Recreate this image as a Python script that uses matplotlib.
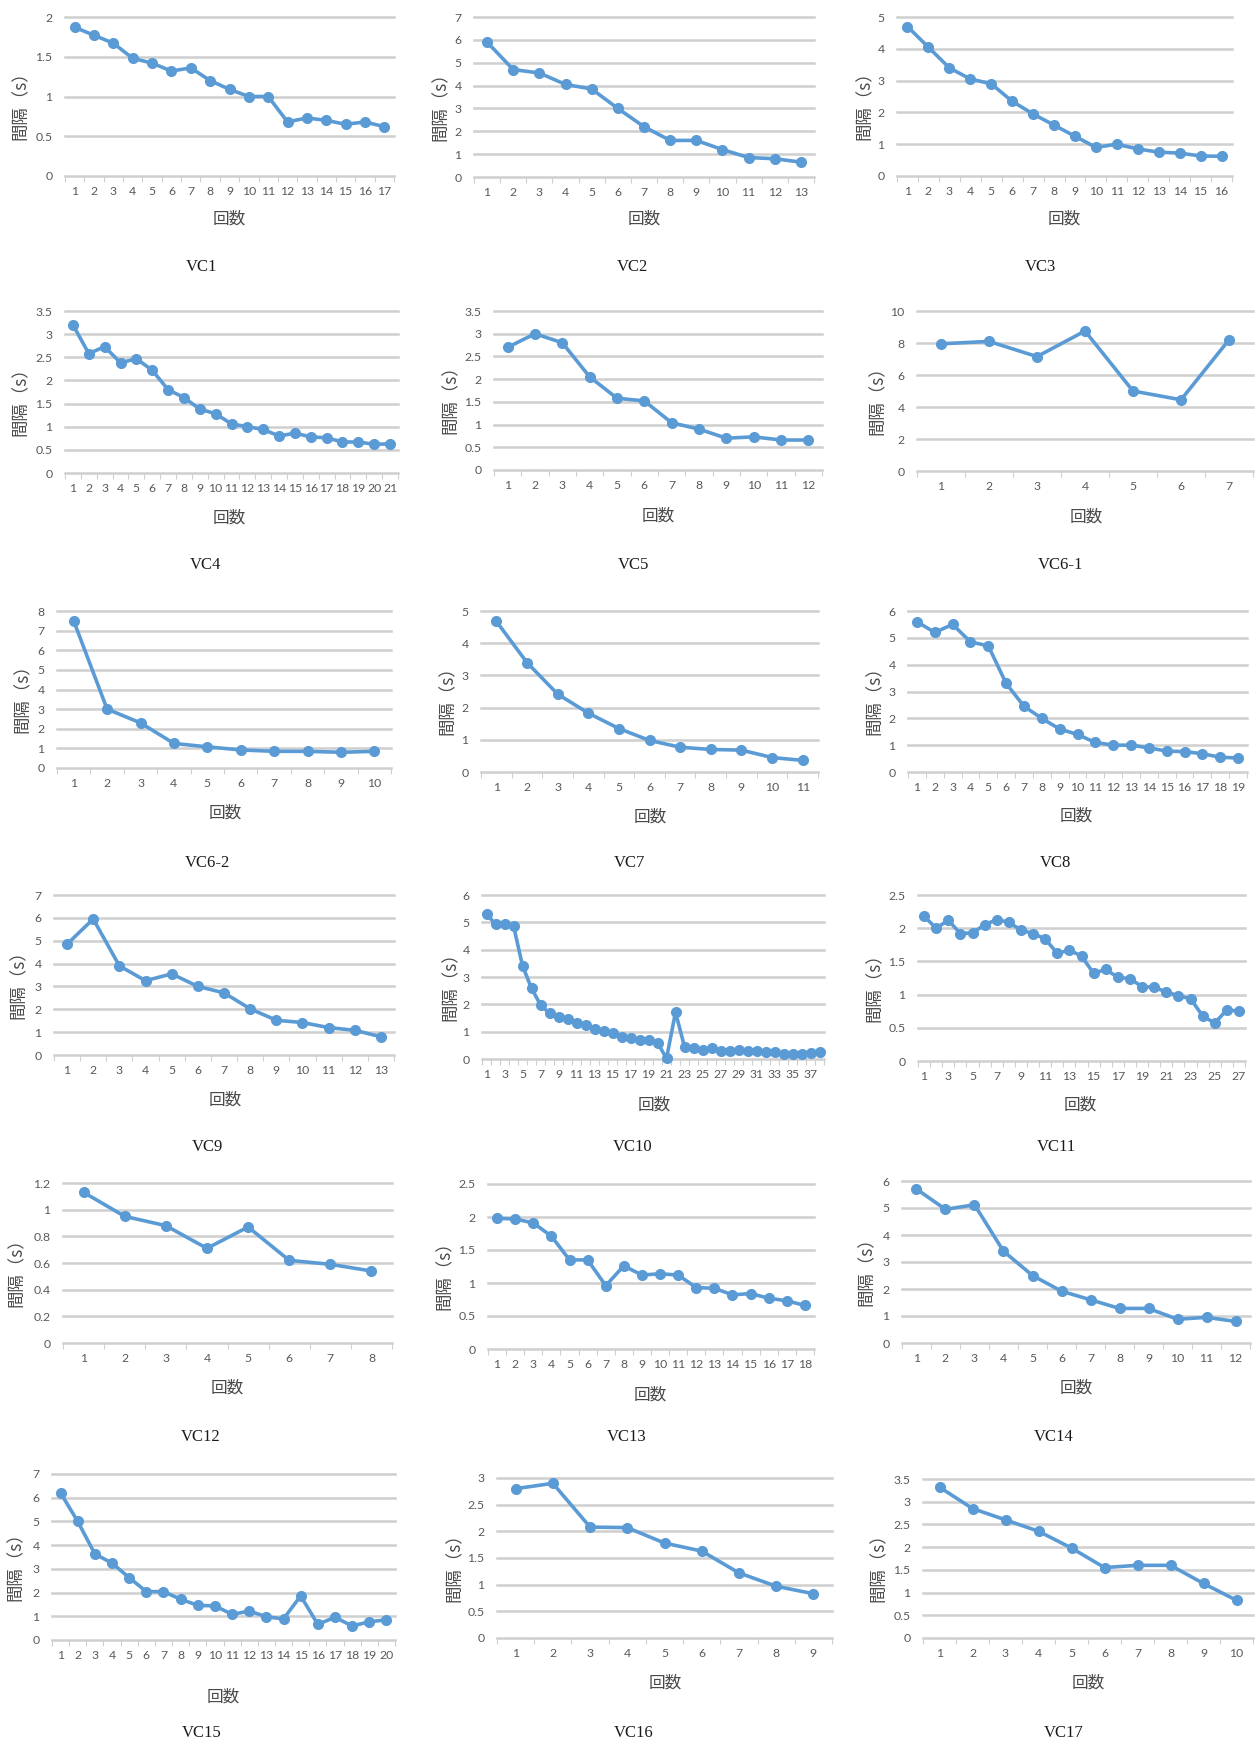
import matplotlib
matplotlib.use("Agg")
import matplotlib.pyplot as plt
from matplotlib.ticker import FuncFormatter
import numpy as np

W, H = 1259, 1747
CJK = ["Noto Sans CJK JP", "DejaVu Sans"]
TICK_FONT = "Lato"
LINE_BLUE = "#5b9bd5"
GRID_GRAY = "#cfcfcf"
TEXT_GRAY = "#595959"

# ---- series (interval in seconds per trial) ----
names = ["VC1", "VC2", "VC3", "VC4", "VC5", "VC6-1", "VC6-2", "VC7", "VC8",
         "VC9", "VC10", "VC11", "VC12", "VC13", "VC14", "VC15", "VC16", "VC17"]

vc1 = [1.87, 1.77, 1.67, 1.48, 1.42, 1.32, 1.36, 1.20, 1.09, 1.00, 1.00,
       0.68, 0.73, 0.70, 0.65, 0.68, 0.62]
vc2 = [5.9, 4.7, 4.55, 4.05, 3.85, 3.0, 2.2, 1.6, 1.6, 1.2, 0.85, 0.8, 0.65]
vc3 = [4.7, 4.05, 3.4, 3.05, 2.9, 2.35, 1.95, 1.6, 1.25, 0.9, 1.0, 0.85,
       0.75, 0.72, 0.63, 0.62]
vc4 = [3.2, 2.58, 2.73, 2.38, 2.47, 2.22, 1.8, 1.63, 1.38, 1.28, 1.06, 1.0,
       0.94, 0.8, 0.86, 0.78, 0.76, 0.67, 0.67, 0.62, 0.63]
vc5 = [2.7, 3.0, 2.8, 2.05, 1.58, 1.52, 1.04, 0.9, 0.7, 0.73, 0.66, 0.66]
vc6_1 = [7.95, 8.1, 7.15, 8.75, 5.0, 4.45, 8.2]
vc6_2 = [7.5, 3.0, 2.3, 1.25, 1.08, 0.92, 0.85, 0.85, 0.8, 0.85]
vc7 = [4.68, 3.4, 2.42, 1.83, 1.35, 0.98, 0.77, 0.7, 0.68, 0.45, 0.36]
vc8 = [5.6, 5.2, 5.5, 4.85, 4.7, 3.3, 2.45, 2.0, 1.6, 1.4, 1.1, 1.0, 1.0,
       0.9, 0.78, 0.76, 0.68, 0.55, 0.52]
vc9 = [4.85, 5.95, 3.9, 3.25, 3.55, 3.0, 2.72, 2.02, 1.52, 1.42, 1.2, 1.08, 0.8]
vc10 = [5.29, 4.94, 4.93, 4.88, 3.41, 2.59, 1.98, 1.67, 1.55, 1.45, 1.30,
        1.23, 1.10, 1.04, 0.94, 0.82, 0.76, 0.70, 0.70, 0.60, 0.02, 1.71,
        0.45, 0.41, 0.33, 0.39, 0.30, 0.30, 0.32, 0.30, 0.28, 0.25, 0.25,
        0.20, 0.18, 0.18, 0.22, 0.27]
vc11 = [2.18, 2.0, 2.12, 1.92, 1.93, 2.05, 2.13, 2.09, 1.97, 1.92, 1.84,
        1.62, 1.67, 1.58, 1.32, 1.38, 1.26, 1.24, 1.12, 1.11, 1.04, 0.98,
        0.94, 0.68, 0.57, 0.77, 0.75]
vc12 = [1.13, 0.95, 0.88, 0.71, 0.87, 0.62, 0.59, 0.54]
vc13 = [1.98, 1.97, 1.91, 1.71, 1.35, 1.35, 0.96, 1.26, 1.12, 1.14, 1.12,
        0.93, 0.92, 0.82, 0.84, 0.77, 0.73, 0.66]
vc14 = [5.7, 4.95, 5.12, 3.4, 2.5, 1.92, 1.6, 1.28, 1.28, 0.88, 0.95, 0.8]
vc15 = [6.2, 5.0, 3.63, 3.24, 2.63, 2.04, 2.04, 1.72, 1.46, 1.44, 1.08,
        1.22, 0.98, 0.89, 1.86, 0.66, 0.96, 0.59, 0.77, 0.85]
vc16 = [2.8, 2.9, 2.08, 2.07, 1.78, 1.63, 1.22, 0.97, 0.83]
vc17 = [3.32, 2.85, 2.6, 2.35, 1.98, 1.55, 1.6, 1.6, 1.2, 0.83]

series = [vc1, vc2, vc3, vc4, vc5, vc6_1, vc6_2, vc7, vc8,
          vc9, vc10, vc11, vc12, vc13, vc14, vc15, vc16, vc17]

# value-axis maximum and major unit for each chart
y_max = [2, 7, 5, 3.5, 3.5, 10, 8, 5, 6, 7, 6, 2.5, 1.2, 2.5, 6, 7, 3, 3.5]
y_step = [0.5, 1, 1, 0.5, 0.5, 2, 1, 1, 1, 1, 1, 0.5, 0.2, 0.5, 1, 1, 0.5, 0.5]
# interval between category labels
x_label_every = [1, 1, 1, 1, 1, 1, 1, 1, 1, 1, 2, 2, 1, 1, 1, 1, 1, 1]

y_title = "間隔（s）"
x_title = "回数"

# ---- layout in pixels: plot box (left, right, top, bottom) ----
boxes = [
    (65, 394, 17, 176), (474, 814, 17, 177), (897, 1232, 17, 176),
    (65, 398, 311, 473), (494, 822, 311, 470), (917, 1253, 311, 471),
    (57, 391, 611, 768), (481, 818, 611, 772), (908, 1247, 611, 772),
    (54, 394, 895, 1055), (482, 824, 895, 1059), (918, 1245, 895, 1061),
    (63, 392, 1183, 1343), (488, 814, 1184, 1349), (902, 1250, 1181, 1343),
    (52, 395, 1474, 1640), (497, 832, 1478, 1638), (923, 1253, 1479, 1638),
]
# (x, y) centres of the category-axis title
xtitle_pos = [
    (229, 219), (644, 219), (1064, 219),
    (229, 518), (658, 516), (1086, 517),
    (225, 813), (650, 817), (1076, 816),
    (225, 1100), (654, 1105), (1080, 1105),
    (227, 1388), (650, 1395), (1076, 1388),
    (223, 1697), (665, 1683), (1088, 1683),
]
# (x, y) centres of the chart captions
caption_pos = [
    (201, 267), (632, 267), (1040, 267),
    (205, 565), (634, 565), (1060, 565),
    (207, 863), (630, 863), (1056, 863),
    (207, 1147), (633, 1147), (1056, 1147),
    (201, 1437), (627, 1437), (1054, 1437),
    (202, 1733), (634, 1733), (1064, 1733),
]
# x centre of the value-axis title
ytitle_x = [21, 441, 865, 21, 451, 878, 23, 448, 875,
            19, 451, 875, 17, 445, 867, 16, 455, 879]


def fx(px):
    return px / W


def fy(py):
    return 1 - py / H


fig = plt.figure(figsize=(W / 100, H / 100), dpi=100)
fig.patch.set_facecolor("white")

fmt = FuncFormatter(lambda v, p: f"{v:g}")

for i, vals in enumerate(series):
    l, r, t, b = boxes[i]
    ax = fig.add_axes([fx(l), fy(b), (r - l) / W, (b - t) / H])
    n = len(vals)
    x = np.arange(1, n + 1)

    ax.set_xlim(0.5, n + 0.5)
    ax.set_ylim(0, y_max[i])
    ax.set_yticks(np.arange(0, y_max[i] + y_step[i] / 2, y_step[i]))
    ax.yaxis.set_major_formatter(fmt)
    ax.set_xticks(x[::x_label_every[i]])
    ax.set_xticks(np.arange(0.5, n + 1, 1.0), minor=True)

    for s in ax.spines.values():
        s.set_visible(False)
    ax.grid(axis="y", color=GRID_GRAY, lw=1.8)
    ax.grid(axis="x", visible=False)
    for gl in ax.get_ygridlines():
        gl.set_clip_on(False)
    ax.set_axisbelow(True)

    ax.tick_params(axis="both", which="major", length=0, labelsize=8.8,
                   labelcolor=TEXT_GRAY)
    ax.tick_params(axis="y", pad=9)
    ax.tick_params(axis="x", pad=7)
    ax.tick_params(axis="x", which="minor", length=4, width=0.8,
                   color=GRID_GRAY)
    ax.tick_params(axis="y", which="minor", length=0)
    for lab in ax.get_xticklabels() + ax.get_yticklabels():
        lab.set_fontfamily(TICK_FONT)

    ax.plot(x, vals, color=LINE_BLUE, lw=2.6, marker="o", ms=8,
            markeredgewidth=0, clip_on=False, zorder=3)

    # value-axis title, reading bottom to top
    fig.text(fx(ytitle_x[i]), fy((t + b) / 2 + 5), y_title, rotation=90,
             ha="center", va="center", fontsize=12.5, color="#4a4a4a",
             family=CJK)
    # category-axis title
    xt, yt = xtitle_pos[i]
    fig.text(fx(xt), fy(yt), x_title, ha="center", va="center",
             fontsize=12, color="#4a4a4a", family=CJK)
    # chart caption
    cx, cy = caption_pos[i]
    fig.text(fx(cx), fy(cy), names[i], ha="center", va="center",
             fontsize=12, color="#1a1a1a", family="Liberation Serif")

fig.savefig("out.png", dpi=100, facecolor="white")
